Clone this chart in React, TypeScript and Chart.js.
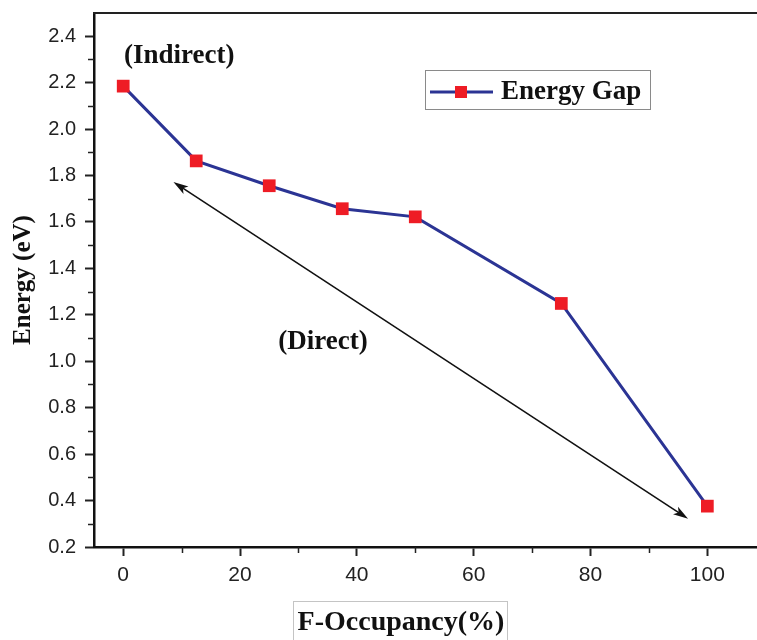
import React, { useEffect, useRef } from "react";
import { Chart, registerables } from "chart.js";

Chart.register(...registerables);

// F-occupancy (%) and the corresponding band gap (eV)
const occupancy = [0, 12.5, 25, 37.5, 50, 75, 100];
const energyGap = [2.185, 1.863, 1.756, 1.657, 1.622, 1.249, 0.376];

// Axis ticks
const xMajorTicks = [0, 20, 40, 60, 80, 100];
const xMinorTicks = [10, 30, 50, 70, 90];
const yMajorTicks = [0.2, 0.4, 0.6, 0.8, 1.0, 1.2, 1.4, 1.6, 1.8, 2.0, 2.2, 2.4];
const yMinorTicks = [0.3, 0.5, 0.7, 0.9, 1.1, 1.3, 1.5, 1.7, 1.9, 2.1, 2.3];

// Annotations in data coordinates
const arrowStart = [8.6, 1.772];
const arrowEnd = [96.7, 0.322];
const indirectLabel = { text: "(Indirect)", x: 9.6, y: 2.314 };
const directLabel = { text: "(Direct)", x: 34.2, y: 1.081 };

const seriesName = "Energy Gap";
const xTitle = "F-Occupancy(%)";
const yTitle = "Energy (eV)";

const NAVY = "#2b3494";
const RED = "#ee1c25";
const SERIF = '"Liberation Serif", "Times New Roman", serif';
const SANS = '"Liberation Sans", Arial, sans-serif';

function drawHead(ctx: CanvasRenderingContext2D, x: number, y: number, ang: number) {
  const len = 15;
  const half = 4.5;
  ctx.save();
  ctx.translate(x, y);
  ctx.rotate(ang);
  ctx.beginPath();
  ctx.moveTo(0, 0);
  ctx.lineTo(-len, -half);
  ctx.lineTo(-len * 0.75, 0);
  ctx.lineTo(-len, half);
  ctx.closePath();
  ctx.fillStyle = "#111";
  ctx.fill();
  ctx.restore();
}

const decor = {
  id: "decor",
  beforeDatasetsDraw(chart: any) {
    const { ctx, chartArea, scales } = chart;
    const xs = scales.x;
    const ys = scales.y;
    ctx.save();

    // top frame line
    ctx.strokeStyle = "#222";
    ctx.lineWidth = 2;
    ctx.beginPath();
    ctx.moveTo(chartArea.left - 1, chartArea.top);
    ctx.lineTo(chartArea.right, chartArea.top);
    ctx.stroke();

    // minor ticks
    ctx.lineWidth = 1.5;
    ctx.strokeStyle = "#222";
    yMinorTicks.forEach((v) => {
      const py = Math.round(ys.getPixelForValue(v)) + 0.5;
      ctx.beginPath();
      ctx.moveTo(chartArea.left - 6, py);
      ctx.lineTo(chartArea.left, py);
      ctx.stroke();
    });
    xMinorTicks.forEach((v) => {
      const px = Math.round(xs.getPixelForValue(v)) + 0.5;
      ctx.beginPath();
      ctx.moveTo(px, chartArea.bottom);
      ctx.lineTo(px, chartArea.bottom + 6);
      ctx.stroke();
    });

    // double-headed arrow
    const x1 = xs.getPixelForValue(arrowStart[0]);
    const y1 = ys.getPixelForValue(arrowStart[1]);
    const x2 = xs.getPixelForValue(arrowEnd[0]);
    const y2 = ys.getPixelForValue(arrowEnd[1]);
    const ang = Math.atan2(y2 - y1, x2 - x1);
    ctx.strokeStyle = "#111";
    ctx.lineWidth = 1.6;
    ctx.beginPath();
    ctx.moveTo(x1 + Math.cos(ang) * 8, y1 + Math.sin(ang) * 8);
    ctx.lineTo(x2 - Math.cos(ang) * 8, y2 - Math.sin(ang) * 8);
    ctx.stroke();
    drawHead(ctx, x2, y2, ang);
    drawHead(ctx, x1, y1, ang + Math.PI);

    // text annotations
    ctx.fillStyle = "#111";
    ctx.font = `bold 27px ${SERIF}`;
    ctx.textAlign = "center";
    ctx.textBaseline = "middle";
    ctx.fillText(indirectLabel.text, xs.getPixelForValue(indirectLabel.x), ys.getPixelForValue(indirectLabel.y));
    ctx.fillText(directLabel.text, xs.getPixelForValue(directLabel.x), ys.getPixelForValue(directLabel.y));
    ctx.restore();
  },
  afterDraw(chart: any) {
    const { ctx } = chart;
    ctx.save();

    // legend
    ctx.strokeStyle = "#8a8a8a";
    ctx.lineWidth = 1;
    ctx.strokeRect(425.5, 70.5, 225, 39);
    ctx.strokeStyle = NAVY;
    ctx.lineWidth = 3;
    ctx.beginPath();
    ctx.moveTo(430, 92);
    ctx.lineTo(493, 92);
    ctx.stroke();
    ctx.fillStyle = RED;
    ctx.fillRect(455, 86, 12, 12);
    ctx.fillStyle = "#111";
    ctx.font = `bold 27px ${SERIF}`;
    ctx.textAlign = "left";
    ctx.textBaseline = "middle";
    ctx.fillText(seriesName, 501, 92);

    // y axis title
    ctx.save();
    ctx.translate(24, 280);
    ctx.rotate(-Math.PI / 2);
    ctx.textAlign = "center";
    ctx.font = `bold 25px ${SERIF}`;
    ctx.fillText(yTitle, 0, 0);
    ctx.restore();

    // x axis title with its frame
    ctx.strokeStyle = "#c4c4c4";
    ctx.lineWidth = 1;
    ctx.strokeRect(293.5, 601.5, 214, 50);
    ctx.font = `bold 28px ${SERIF}`;
    ctx.textAlign = "center";
    ctx.fillText(xTitle, 401, 623);
    ctx.restore();
  },
};

export default function App() {
  const ref = useRef<HTMLCanvasElement>(null);

  useEffect(() => {
    if (!ref.current) return;
    const chart = new Chart(ref.current, {
      type: "line",
      data: {
        datasets: [
          {
            label: seriesName,
            data: occupancy.map((x, i) => ({ x, y: energyGap[i] })),
            borderColor: NAVY,
            borderWidth: 3,
            backgroundColor: RED,
            pointStyle: "rect",
            pointRadius: 9,
            pointBorderWidth: 0,
            pointBackgroundColor: RED,
            pointBorderColor: RED,
            tension: 0,
          },
        ],
      },
      options: {
        responsive: false,
        animation: false,
        layout: { autoPadding: false, padding: { top: 13, right: 0, left: 0, bottom: 0 } },
        plugins: { legend: { display: false }, tooltip: { enabled: false } },
        scales: {
          x: {
            type: "linear",
            min: -5,
            max: 108.5,
            afterBuildTicks: (s: any) => {
              s.ticks = xMajorTicks.map((value) => ({ value }));
            },
            afterFit: (s: any) => {
              s.height = 93;
              s.paddingLeft = 0;
              s.paddingRight = 0;
            },
            ticks: {
              color: "#222",
              font: { family: SANS, size: 21 },
              padding: 7,
              maxRotation: 0,
              callback: (v: any) => String(v),
            },
            grid: {
              drawOnChartArea: false,
              drawTicks: true,
              tickLength: 9,
              tickWidth: 2,
              tickColor: "#222",
            },
            border: { color: "#111", width: 2.5 },
          },
          y: {
            type: "linear",
            min: 0.2,
            max: 2.5,
            afterBuildTicks: (s: any) => {
              s.ticks = yMajorTicks.map((value) => ({ value }));
            },
            afterFit: (s: any) => {
              s.width = 94;
              s.paddingTop = 0;
              s.paddingBottom = 0;
            },
            ticks: {
              color: "#222",
              font: { family: SANS, size: 20 },
              padding: 9,
              callback: (v: any) => Number(v).toFixed(1),
            },
            grid: {
              drawOnChartArea: false,
              drawTicks: true,
              tickLength: 9,
              tickWidth: 2,
              tickColor: "#222",
            },
            border: { color: "#111", width: 2.5 },
          },
        },
      },
      plugins: [decor],
    });
    return () => chart.destroy();
  }, []);

  return (
    <div style={{ position: "fixed", left: 0, top: 0, width: 757, height: 640, background: "#fff" }}>
      <canvas ref={ref} width={757} height={640} style={{ display: "block" }} />
    </div>
  );
}
